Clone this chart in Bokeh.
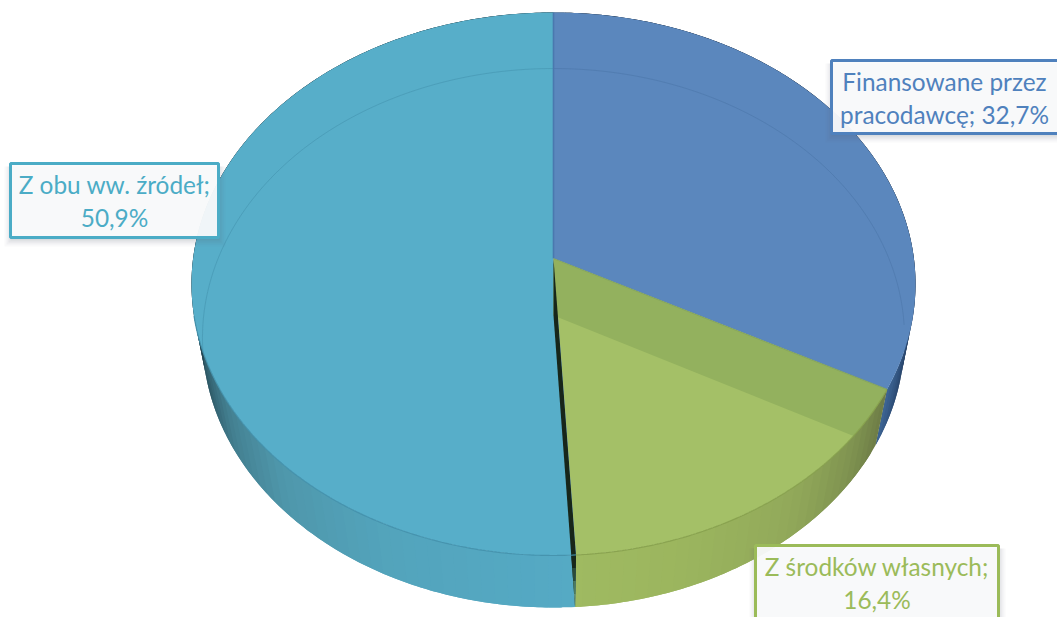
import numpy as np
from bokeh.embed import file_html
from bokeh.models import Range1d
from bokeh.plotting import figure
from bokeh.resources import INLINE
from bokeh.core.properties import value

# Survey shares, clockwise from twelve o'clock
categories = ["Finansowane przez pracodawcę", "Z środków własnych", "Z obu ww. źródeł"]
shares = [32.7, 16.4, 50.9]
label_rows = [
    ["Finansowane przez", "pracodawcę; 32,7%"],
    ["Z środków własnych;", "16,4%"],
    ["Z obu ww. źródeł;", "50,9%"],
]

top_colors = ["#5B87BD", "#A4C067", "#57AEC9"]
text_colors = ["#4F81BD", "#9BBB59", "#4BACC6"]
rim_lines = ["#4A78AE", "#86A04C", "#4390AB"]

# Tilted disc: centre, radii and foreshortening of the lid and of the base
LID = dict(cx=553.0, cy=258.0, rx=360.4, ry=269.1, k=0.0939)
BASE = dict(cx=553.0, cy=315.0, rx=349.8, ry=267.6, k=0.0835)

# Side wall shading, as (angle, colour) stops per slice
side_stops = [
    [(85, "#16263A"), (100, "#23395A"), (110, "#2E4E78"), (118, "#3E6696")],
    [(117, "#6C7A45"), (128, "#7F9350"), (142, "#92A95A"), (160, "#9BB55E"), (177, "#9FBA61")],
    [(176, "#55AAC5"), (205, "#53A4BC"), (225, "#4F97AB"), (240, "#437F90"), (252, "#2F5A68"), (265, "#1F3A44")],
]

# Screen boxes of the value labels: left, right, top, bottom
label_boxes = [(831, 1062, 60, 133), (755, 998, 545, 622), (10, 218, 163, 237)]


def project(disc, theta, frac=1.0):
    rad = np.radians(theta)
    u, v = np.sin(rad) * frac, -np.cos(rad) * frac
    d = 1 - disc["k"] * v
    return disc["cx"] + disc["rx"] * u / d, disc["cy"] + disc["ry"] * v / d


def hex_rgb(h):
    return np.array([int(h[i:i + 2], 16) for i in (1, 3, 5)], dtype=float)


def shade(stops, theta):
    angles = [a for a, _ in stops]
    rgb = np.array([hex_rgb(c) for _, c in stops])
    vals = [np.interp(theta, angles, rgb[:, i]) for i in range(3)]
    return "#%02X%02X%02X" % tuple(int(round(x)) for x in vals)


edges = np.concatenate([[0.0], np.cumsum(shares)]) * 3.6

p = figure(width=1057, height=617, output_backend="svg", toolbar_location=None,
           x_range=Range1d(0, 1057), y_range=Range1d(617, 0),
           x_axis_type=None, y_axis_type=None, min_border=0,
           outline_line_color=None, background_fill_color="white")
p.grid.visible = False

# Side wall: each slice is painted as overlapping strips between lid and base,
# so neighbouring strips leave no seam
for i in range(3):
    start, end = edges[i], edges[i + 1]
    grid = np.arange(start, end, 2.0).tolist() + [end]
    for a, b in zip(grid[:-1], grid[1:]):
        over = min(b + 2.0, end)
        th = np.linspace(a, over, 8)
        ax, ay = project(LID, th)
        dx_, dy_ = project(BASE, th[::-1])
        p.patch(np.concatenate([ax, dx_]), np.concatenate([ay, dy_]),
                fill_color=shade(side_stops[i], (a + b) / 2), line_color=None)

# Lid slices
for i in range(3):
    th = np.linspace(edges[i], edges[i + 1], 200)
    x, y = project(LID, th)
    x = np.concatenate([[LID["cx"]], x])
    y = np.concatenate([[LID["cy"]], y])
    p.patch(x, y, fill_color=top_colors[i], line_color=None)

bound = edges[2]
bx, by = project(BASE, bound)
rx_, ry_ = project(LID, bound)

# Darker band of the green slice where the inner wall shows through
wall_theta = edges[1]
ex, ey = project(BASE, wall_theta)
slope = (ey - BASE["cy"]) / (ex - BASE["cx"])
arc = []
for t in np.linspace(wall_theta, edges[2], 400):
    qx, qy = project(LID, t)
    if qy > BASE["cy"] + slope * (qx - BASE["cx"]):
        break
    arc.append((qx, qy))
band_x = [LID["cx"]] + [a[0] for a in arc] + [BASE["cx"]]
band_y = [LID["cy"]] + [a[1] for a in arc] + [BASE["cy"]]
p.patch(band_x, band_y, fill_color="#93B15E", line_color=None)

# Inner wall at the green/teal boundary: a dark sliver narrowing upwards
p.patch([LID["cx"], rx_, bx, BASE["cx"]], [LID["cy"], ry_, by, BASE["cy"]],
        fill_color="#17261A", line_color=None)
lower_t = (ry_ - BASE["cy"]) / (by - BASE["cy"])
lx = BASE["cx"] + lower_t * (bx - BASE["cx"])
fade = ["#17261A", "#2A4A3A", "#4A7A60", "#6FA28A"]
for j, c in enumerate(fade):
    t0, t1 = j / len(fade), (j + 1) / len(fade)
    y0, y1 = ry_ + t0 * (by - ry_), ry_ + t1 * (by - ry_)
    rx0, rx1 = rx_ + t0 * (bx - rx_), rx_ + t1 * (bx - rx_)
    lx0 = lx + t0 * (bx - lx)
    lx1 = lx + t1 * (bx - lx)
    p.patch([lx0, rx0, rx1, lx1], [y0, y0, y1, y1], fill_color=c, line_color=None)

# Back edge of the base, visible through the lid
for i, (a, b) in enumerate([(0, 92), (262, 360)]):
    th = np.linspace(a, b, 120)
    x, y = project(BASE, th)
    p.line(x, y, line_color=["#4A74A8", "#4492AD"][i], line_width=1, line_alpha=0.55)

# Lid rim along the front and the slice edges
for i, (a, b) in enumerate([(edges[1], edges[2]), (edges[2], 258)]):
    th = np.linspace(a, b, 150)
    x, y = project(LID, th)
    p.line(x, y, line_color=[rim_lines[1], rim_lines[2]][i], line_width=1.2, line_alpha=0.9)
tx, ty = project(LID, 0.0)
p.line([tx, LID["cx"]], [ty, LID["cy"]], line_color=rim_lines[0], line_width=1.6)
gx, gy = project(LID, edges[1])
p.line([LID["cx"], gx], [LID["cy"], gy], line_color="#7F9F5A", line_width=1.2, line_alpha=0.7)

# Value labels: soft shadow, translucent card, border and two rows of text
for i in range(3):
    l, r, t, b = label_boxes[i]
    for grow, alpha in [(7, 0.04), (5, 0.05), (3, 0.07), (1, 0.09)]:
        p.quad(left=[l - grow + 1], right=[r + grow], top=[t + 3], bottom=[b + grow + 2],
               fill_color="#5A6A7A", fill_alpha=alpha, line_color=None)
    p.quad(left=[l], right=[r], top=[t], bottom=[b], fill_color="#FAFBFC", fill_alpha=0.94,
           line_color=text_colors[i], line_width=3)
    mid = (l + min(r, 1057)) / 2
    for j, row in enumerate(label_rows[i]):
        p.text([mid], [t + 21 + 33 * j], text=[row], text_font=value("Lato"),
               text_font_size="24.4px", text_color=text_colors[i],
               text_align="center", text_baseline="middle")

open("out.html", "w").write(file_html(p, INLINE))
